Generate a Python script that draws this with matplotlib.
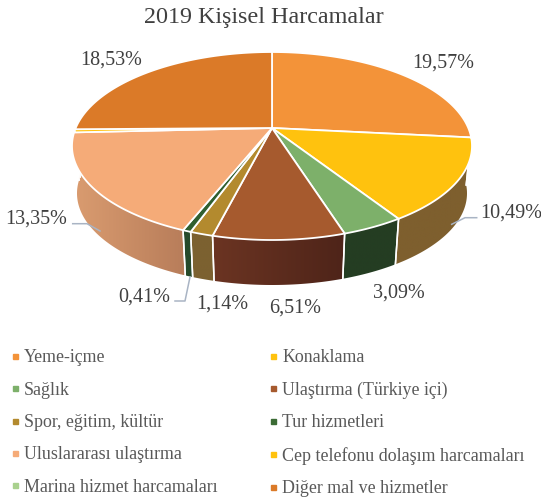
import numpy as np
import matplotlib
matplotlib.use('Agg')
import matplotlib.pyplot as plt
from matplotlib.lines import Line2D
from matplotlib.patches import Polygon
from matplotlib.colors import LinearSegmentedColormap

plt.rcParams['font.family'] = ['Liberation Serif', 'DejaVu Serif']

title = '2019 Kişisel Harcamalar'
categories = ['Yeme-içme', 'Konaklama', 'Sağlık', 'Ulaştırma (Türkiye içi)',
              'Spor, eğitim, kültür', 'Tur hizmetleri', 'Uluslararası ulaştırma',
              'Cep telefonu dolaşım harcamaları', 'Marina hizmet harcamaları',
              'Diğer mal ve hizmetler']
values = [19.57, 10.49, 3.09, 6.51, 1.14, 0.41, 13.35, 0.40, 0.0, 18.53]
value_labels = ['19,57%', '10,49%', '3,09%', '6,51%', '1,14%', '0,41%', '13,35%',
                None, None, '18,53%']

top_colors = ['#F39339', '#FFC20E', '#7DB06A', '#A65A2E', '#B38A2E', '#2F5F30',
              '#F5AB78', '#FFC20E', '#A9D18E', '#DB7A28']
legend_colors = ['#F39339', '#FFC20E', '#7DB06A', '#A65A2E', '#B38A2E', '#3B6B35',
                 '#F5AB78', '#FFC20E', '#A9D18E', '#DB7A28']
# duvar renkleri: sol ve sag uc
wall_left = ['#7E5F2E', '#7E5F2E', '#243D22', '#6B3422', '#7C6130', '#264A2B',
             '#DA9C70', '#DA9C70', '#DA9C70', '#DA9C70']
wall_right = ['#7E5F2E', '#7E5F2E', '#243D22', '#4E2419', '#7C6130', '#264A2B',
              '#B87D5A', '#DA9C70', '#DA9C70', '#DA9C70']

# pasta geometrisi (piksel)
CX, CY = 272, 128
A, B, K = 196.3, 90.55, 0.1915
SHRINK, DROP = 0.975, 47.8

label_pos = [(443, 63), (511, 213), (399, 293), (295, 308), (222, 304),
             (144, 297), (36, 219), None, None, (111, 60)]
leaders = [None, [(476.7, 217.7), (465, 217.7), (451.7, 224.3)], None, None, None,
           [(175, 301), (185, 301), (190, 277)],
           [(72.7, 223.7), (87, 223.7), (100, 231)], None, None, None]


def project(theta):
    """ust yuzeydeki noktalar, theta tepeden saat yonunde (derece)"""
    t = np.radians(theta)
    den = 1 + K * np.cos(t)
    return CX + A * np.sin(t) / den, CY - B * np.cos(t) / den


def project_bottom(theta):
    x, y = project(theta)
    return CX + SHRINK * (x - CX), CY + DROP + SHRINK * (y - CY)


def draw_wall(ax, start, end, left_hex, right_hex):
    # yalniz on yuz gorunur, gerisi ust yuzeyin altinda kalir
    start, end = max(start, 40), min(end, 320)
    if end <= start:
        return
    th = np.linspace(start, end, 80)
    tx, ty = project(th)
    bx, by = project_bottom(th)
    xs, ys = np.r_[tx, bx[::-1]], np.r_[ty, by[::-1]]
    poly = Polygon(np.c_[xs, ys], closed=True, facecolor='none', edgecolor='none',
                   transform=ax.transData)
    ax.add_patch(poly)
    cmap = LinearSegmentedColormap.from_list('wall', [left_hex, right_hex])
    grad = np.linspace(0, 1, 64).reshape(1, -1)
    im = ax.imshow(grad, cmap=cmap, extent=[xs.min(), xs.max(), ys.max(), ys.min()],
                   aspect='auto', interpolation='bilinear', zorder=2)
    im.set_clip_path(poly)
    for a in (start, end):
        if 90 < a < 270:
            x0, y0 = project(a)
            x1, y1 = project_bottom(a)
            ax.plot([x0, x1], [y0, y1], color='white', lw=1.1, zorder=3)


def main():
    fig = plt.figure(figsize=(5.41, 4.98), dpi=100)
    ax = fig.add_axes([0, 0, 1, 1])
    ax.axis('off')

    stops = np.r_[0, np.cumsum(values)] / np.sum(values) * 360

    for i in range(len(values)):
        if values[i] > 0:
            draw_wall(ax, stops[i], stops[i + 1], wall_left[i], wall_right[i])

    for i in range(len(values)):
        if values[i] <= 0:
            continue
        th = np.linspace(stops[i], stops[i + 1], 80)
        x, y = project(th)
        ax.fill(np.r_[CX, x], np.r_[CY, y], facecolor=top_colors[i], edgecolor='white',
                lw=1.3, joinstyle='round', zorder=4)

    for i, text in enumerate(value_labels):
        if text is None:
            continue
        ax.text(label_pos[i][0], label_pos[i][1], text, fontsize=14.5, color='#404040',
                ha='center', va='center', zorder=6)
        if leaders[i] is not None:
            ax.plot(*zip(*leaders[i]), color='#A9B4C4', lw=1.1, zorder=5)

    ax.text(264, 17, title, fontsize=17.4, color='#404040', ha='center', va='center')

    # imshow sinirlari degistirir, en son ayarla
    ax.set_xlim(0, 541)
    ax.set_ylim(498, 0)

    # legend satir satir okunur, matplotlib sutun sutun doldurur
    order = [0, 2, 4, 6, 8, 1, 3, 5, 7, 9]
    handles = [Line2D([], [], ls='none', marker='s', ms=3.6, color=legend_colors[i]) for i in order]
    ax.legend(handles, [categories[i] for i in order], ncol=2, frameon=False,
              loc='upper left', bbox_to_anchor=(0.0177, 0.299), prop={'size': 12.9},
              labelcolor='#595959', handlelength=0.6, handletextpad=0.2,
              columnspacing=2.82, labelspacing=0.86, borderpad=0, borderaxespad=0)

    fig.savefig('out.png', dpi=100)


if __name__ == '__main__':
    main()
